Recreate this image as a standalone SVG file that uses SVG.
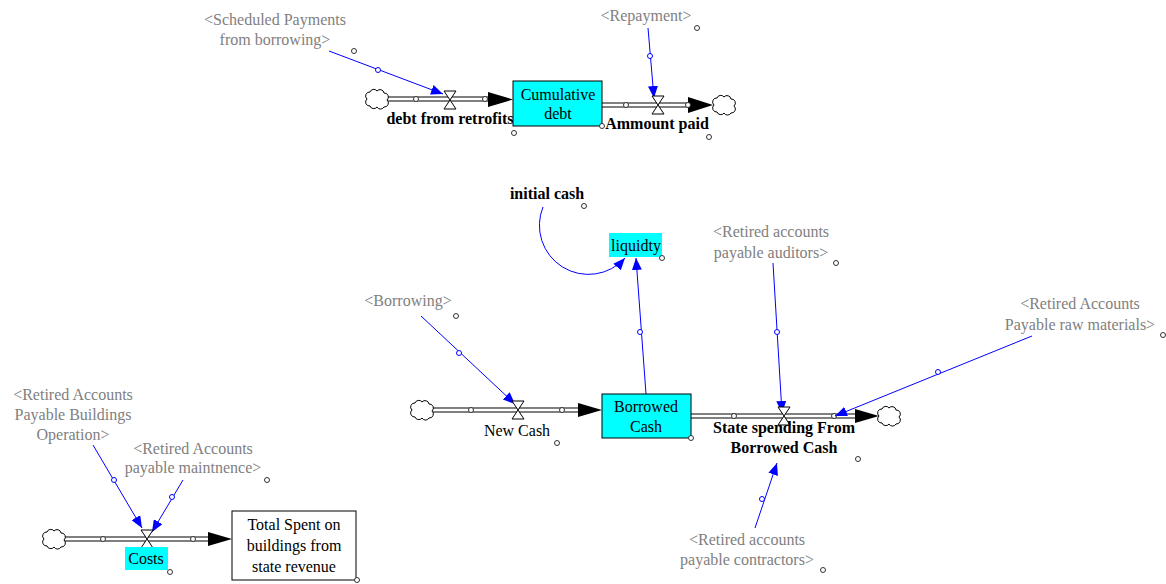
<svg xmlns="http://www.w3.org/2000/svg" width="1166" height="584" viewBox="0 0 1166 584">
<style>
text{font-family:"Liberation Serif","Times New Roman",serif;font-size:16px;text-anchor:middle;fill:#000}
.g{fill:#808080}
.b{font-weight:bold}
.stock{fill:#00ffff;stroke:#000;stroke-width:1}
.box{fill:#fff;stroke:#000;stroke-width:1}
.hl{fill:#00ffff}
.po{stroke:#000;stroke-width:5;fill:none}
.pi{stroke:#fff;stroke-width:3;fill:none}
.ah{fill:#000}
.valve{fill:#fff;stroke:#000;stroke-width:1}
.cloud{fill:#fff;stroke:#000;stroke-width:1}
.h{fill:#fff;stroke:#333;stroke-width:1}
.hb{fill:#fff;stroke:#0000ff;stroke-width:1}
.lk{stroke:#0000ff;stroke-width:1;fill:none;marker-end:url(#arr)}
</style>
<defs>
<marker id="arr" markerUnits="userSpaceOnUse" markerWidth="14" markerHeight="10" refX="12" refY="5" orient="auto">
<path d="M0,0 L12,5 L0,10 Z" fill="#0000ff"/>
</marker>
<path id="cl" d="M-7,-7 a4,4 0 0 1 7,-1 a4,4 0 0 1 7,2 a4,4 0 0 1 3,7 a4,4 0 0 1 -3,7 a4,4 0 0 1 -7,0 a4,4 0 0 1 -7,-1 a4,4 0 0 1 -3,-7 a4,4 0 0 1 3,-7 Z"/>
<path id="vl" d="M-6,-9 H6 L0,0 Z M-6,9 H6 L0,0 Z"/>
</defs>

<g id="connectors">
<path class="po" d="M388,99 H492"/><path class="pi" d="M388,99 H492"/>
<polygon class="ah" points="488,92 513,99.5 488,107"/>
<circle class="h" cx="416" cy="99" r="2.5"/><circle class="h" cx="485" cy="99" r="2.5"/>
<path class="po" d="M602,105 H692"/><path class="pi" d="M602,105 H692"/>
<polygon class="ah" points="688,97 713,105 688,113"/>
<circle class="h" cx="626" cy="105" r="2.5"/><circle class="h" cx="688" cy="105" r="2.5"/>
<path class="po" d="M433,410 H582"/><path class="pi" d="M433,410 H582"/>
<polygon class="ah" points="578,403 602,410 578,417"/>
<circle class="h" cx="471" cy="410" r="2.5"/><circle class="h" cx="562" cy="410" r="2.5"/>
<path class="po" d="M691,416 H859"/><path class="pi" d="M691,416 H859"/>
<polygon class="ah" points="855,409 879,416 855,423"/>
<circle class="h" cx="734" cy="416" r="2.5"/><circle class="h" cx="834" cy="416" r="2.5"/>
<path class="po" d="M65,539 H212"/><path class="pi" d="M65,539 H212"/>
<polygon class="ah" points="208,532 232,539 208,546"/>
<circle class="h" cx="103" cy="539" r="2.5"/><circle class="h" cx="193" cy="539" r="2.5"/>

<path class="lk" d="M329,51 L443,94"/><circle class="hb" cx="378" cy="70" r="2.5"/>
<path class="lk" d="M648,28 L654,98"/><circle class="hb" cx="650" cy="56" r="2.5"/>
<path class="lk" d="M543,207 A49,49 0 0 0 625,258"/><circle class="hb" cx="626" cy="246" r="2.5"/>
<path class="lk" d="M646,394 L636,258"/><circle class="hb" cx="640" cy="332" r="2.5"/>
<path class="lk" d="M421,316 L515,404"/><circle class="hb" cx="459" cy="353" r="2.5"/>
<path class="lk" d="M773,263 L782,413"/><circle class="hb" cx="777" cy="332" r="2.5"/>
<path class="lk" d="M1032,336 L835,416"/><circle class="hb" cx="938" cy="372" r="2.5"/>
<path class="lk" d="M755,528 L777,463"/><circle class="hb" cx="762" cy="499" r="2.5"/>
<path class="lk" d="M93,445 L142,528"/><circle class="hb" cx="114" cy="480" r="2.5"/>
<path class="lk" d="M183,480 L152,532"/><circle class="hb" cx="172" cy="497" r="2.5"/>
</g>

<g id="cloud-1"><use href="#cl" class="cloud" x="377" y="99"/></g>
<g id="cloud-2"><use href="#cl" class="cloud" x="724" y="105"/></g>
<g id="cloud-3"><use href="#cl" class="cloud" x="422" y="410"/></g>
<g id="cloud-4"><use href="#cl" class="cloud" x="889" y="416"/></g>
<g id="cloud-5"><use href="#cl" class="cloud" x="54" y="539"/></g>

<g id="scheduled-payments">
<text class="g" x="275" y="25">&lt;Scheduled Payments</text>
<text class="g" x="275" y="45">from borrowing&gt;</text>
<circle class="h" cx="354" cy="51" r="2.5"/>
</g>
<g id="repayment">
<text class="g" x="646" y="21">&lt;Repayment&gt;</text>
<circle class="h" cx="697" cy="28" r="2.5"/>
</g>
<g id="debt-from-retrofits">
<use href="#vl" class="valve" x="450" y="100"/>
<text class="b" x="450" y="124">debt from retrofits</text>
<circle class="h" cx="514" cy="133" r="2.5"/>
</g>
<g id="cumulative-debt">
<rect class="stock" x="513" y="81" width="89" height="45"/>
<text x="558" y="100">Cumulative</text>
<text x="558" y="119">debt</text>
<circle class="h" cx="602" cy="126" r="2.5"/>
</g>
<g id="ammount-paid">
<use href="#vl" class="valve" x="658" y="105"/>
<text class="b" x="657" y="129">Ammount paid</text>
<circle class="h" cx="709" cy="137" r="2.5"/>
</g>
<g id="initial-cash">
<text class="b" x="547" y="199">initial cash</text>
<circle class="h" cx="584" cy="206" r="2.5"/>
</g>
<g id="liquidty">
<rect class="hl" x="609" y="233" width="53" height="24"/>
<text x="636" y="251">liquidty</text>
<circle class="h" cx="662" cy="258" r="2.5"/>
</g>
<g id="borrowing">
<text class="g" x="408" y="306">&lt;Borrowing&gt;</text>
<circle class="h" cx="456" cy="316" r="2.5"/>
</g>
<g id="new-cash">
<use href="#vl" class="valve" x="518" y="410"/>
<text x="517" y="436">New Cash</text>
<circle class="h" cx="557" cy="443" r="2.5"/>
</g>
<g id="borrowed-cash">
<rect class="stock" x="602" y="394" width="89" height="44"/>
<text x="646" y="412">Borrowed</text>
<text x="646" y="432">Cash</text>
<circle class="h" cx="691" cy="438" r="2.5"/>
</g>
<g id="retired-auditors">
<text class="g" x="771" y="237">&lt;Retired accounts</text>
<text class="g" x="771" y="258">payable auditors&gt;</text>
<circle class="h" cx="836" cy="263" r="2.5"/>
</g>
<g id="retired-raw">
<text class="g" x="1080" y="309">&lt;Retired Accounts</text>
<text class="g" x="1080" y="330">Payable raw materials&gt;</text>
<circle class="h" cx="1163" cy="335" r="2.5"/>
</g>
<g id="state-spending">
<use href="#vl" class="valve" x="784" y="416"/>
<text class="b" x="784" y="433">State spending From</text>
<text class="b" x="784" y="453">Borrowed Cash</text>
<circle class="h" cx="858" cy="459" r="2.5"/>
</g>
<g id="retired-contractors">
<text class="g" x="747" y="545">&lt;Retired accounts</text>
<text class="g" x="747" y="565">payable contractors&gt;</text>
<circle class="h" cx="823" cy="570" r="2.5"/>
</g>
<g id="retired-buildings">
<text class="g" x="73" y="400">&lt;Retired Accounts</text>
<text class="g" x="73" y="420">Payable Buildings</text>
<text class="g" x="73" y="440">Operation&gt;</text>
</g>
<g id="retired-maintnence">
<text class="g" x="193" y="454">&lt;Retired Accounts</text>
<text class="g" x="193" y="473">payable maintnence&gt;</text>
<circle class="h" cx="267" cy="480" r="2.5"/>
</g>
<g id="costs">
<use href="#vl" class="valve" x="147" y="539"/>
<rect class="hl" x="125" y="547" width="43" height="23"/>
<text x="146" y="564">Costs</text>
<circle class="h" cx="170" cy="572" r="2.5"/>
</g>
<g id="total-spent">
<rect class="box" x="232" y="511" width="124" height="69"/>
<text x="294" y="530">Total Spent on</text>
<text x="294" y="551">buildings from</text>
<text x="294" y="572">state revenue</text>
<circle class="h" cx="357" cy="580" r="2.5"/>
</g>
</svg>
